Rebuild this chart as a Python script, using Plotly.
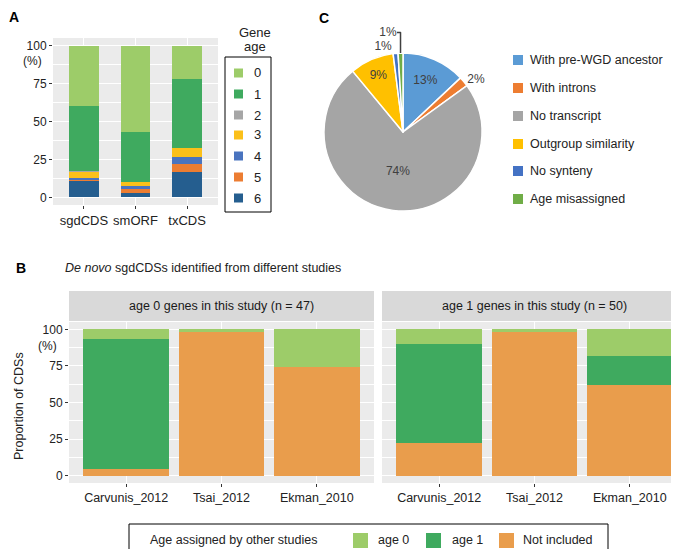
import plotly.graph_objects as go

W, H = 679, 549
FONT = "Liberation Sans, Arial, sans-serif"
TXT = "#333333"

# ---------------- Panel A data ----------------
a_categories = ["sgdCDS", "smORF", "txCDS"]
gene_ages = ["0", "1", "2", "3", "4", "5", "6"]
age0 = [40.0, 57.1, 21.8]
age1 = [42.8, 32.9, 45.9]
age2 = [0.4, 0.0, 0.0]
age3 = [4.0, 2.2, 6.0]
age4 = [0.9, 2.2, 4.0]
age5 = [0.8, 2.7, 5.6]
age6 = [11.1, 2.9, 16.7]
age_colors = ["#9DCC69", "#3FAA5F", "#A6A6A6", "#FBC01A", "#4A74BF", "#EC7D32", "#255E8F"]

# ---------------- Panel C data ----------------
pie_labels = ["With pre-WGD ancestor", "With introns", "No transcript",
              "Outgroup similarity", "No synteny", "Age misassigned"]
pie_values = [13, 2, 74, 9, 1, 1]
pie_colors = ["#5B9BD5", "#ED7D31", "#A5A5A5", "#FFC000", "#4472C4", "#70AD47"]

# ---------------- Panel B data ----------------
studies = ["Carvunis_2012", "Tsai_2012", "Ekman_2010"]
facet_titles = ["age 0 genes in this study (n = 47)", "age 1 genes in this study (n = 50)"]
f0_age0 = [6.4, 2.1, 25.5]
f0_age1 = [89.3, 0.0, 0.0]
f0_notinc = [4.3, 97.9, 74.5]
f1_age0 = [10.0, 2.0, 18.0]
f1_age1 = [68.0, 0.0, 20.0]
f1_notinc = [22.0, 98.0, 62.0]
b_legend = ["age 0", "age 1", "Not included"]
b_colors = ["#9DCC69", "#3FAA5F", "#E99D4C"]


def px(x):
    return x / W


def py(y):
    return 1 - y / H


fig = go.Figure()

# Panel A stacked bars (bottom = age 6)
a_series = [age0, age1, age2, age3, age4, age5, age6]
for i in range(6, -1, -1):
    fig.add_trace(go.Bar(x=a_categories, y=a_series[i], name=gene_ages[i],
                         marker=dict(color=age_colors[i], line=dict(width=0)),
                         width=0.58, xaxis="x", yaxis="y", showlegend=False))

# Panel C pie
fig.add_trace(go.Pie(labels=pie_labels, values=pie_values, sort=False,
                     direction="clockwise", rotation=0,
                     marker=dict(colors=pie_colors, line=dict(color="white", width=1.5)),
                     texttemplate="%{percent:.0%}",
                     textposition=["inside", "outside", "inside", "inside", "outside", "outside"],
                     insidetextorientation="horizontal",
                     textfont=dict(size=12, color="#404040", family=FONT),
                     domain=dict(x=[px(316), px(474)], y=[py(203), py(45)]),
                     showlegend=False))

# Panel B stacked bars
facets = [(f0_notinc, f0_age1, f0_age0, "x2", "y2"), (f1_notinc, f1_age1, f1_age0, "x3", "y3")]
for notinc, a1, a0, xa, ya in facets:
    for vals, nm, col in [(notinc, b_legend[2], b_colors[2]), (a1, b_legend[1], b_colors[1]),
                          (a0, b_legend[0], b_colors[0])]:
        fig.add_trace(go.Bar(x=studies, y=vals, name=nm, marker=dict(color=col, line=dict(width=0)),
                             width=0.9, xaxis=xa, yaxis=ya, showlegend=False))

grid = dict(showgrid=True, gridcolor="white", gridwidth=1.1, zeroline=False,
            ticks="outside", ticklen=3, tickcolor="#333333", tickwidth=1, showline=False)
minor = dict(dtick=12.5, tick0=0, showgrid=True, gridcolor="white", gridwidth=0.5, ticks="")

fig.update_layout(
    width=W, height=H, margin=dict(l=0, r=0, t=0, b=0),
    paper_bgcolor="white", plot_bgcolor="#EBEBEB",
    barmode="stack", font=dict(family=FONT, color=TXT),
    xaxis=dict(domain=[px(45), px(210)], anchor="y", range=[-0.6, 2.6],
               tickfont=dict(size=13, color="#222"), **grid),
    yaxis=dict(domain=[py(197), py(30)], anchor="x", range=[-5, 105],
               tickvals=[0, 25, 50, 75, 100], tickfont=dict(size=12, color="#222"),
               minor=minor, **grid),
    xaxis2=dict(domain=[px(61), px(366)], anchor="y2", range=[-0.6, 2.6],
                tickfont=dict(size=12.5, color="#222"), **grid),
    yaxis2=dict(domain=[py(475), py(314)], anchor="x2", range=[-5, 105],
                tickvals=[0, 25, 50, 75, 100], tickfont=dict(size=12, color="#222"),
                minor=minor, **grid),
    xaxis3=dict(domain=[px(374), px(679)], anchor="y3", range=[-0.6, 2.6],
                tickfont=dict(size=12.5, color="#222"), **grid),
    yaxis3=dict(domain=[py(475), py(314)], anchor="x3", range=[-5, 105],
                tickvals=[0, 25, 50, 75, 100], showticklabels=False,
                minor=minor, **{**grid, "ticks": ""}),
)

shapes = []
annotations = []


def text(x, y, s, size=12, xanchor="left", yanchor="middle", bold=False, color="#222", angle=0):
    annotations.append(dict(x=px(x), y=py(y), xref="paper", yref="paper", text=s,
                            showarrow=False, xanchor=xanchor, yanchor=yanchor, textangle=angle,
                            font=dict(size=size, color=color, family=FONT)))


def rect(x0, y0, x1, y1, fill=None, line=None):
    shapes.append(dict(type="rect", xref="paper", yref="paper", x0=px(x0), x1=px(x1),
                       y0=py(y1), y1=py(y0), fillcolor=fill or "rgba(0,0,0,0)",
                       line=dict(width=1 if line else 0, color=line or "rgba(0,0,0,0)"),
                       layer="above"))


# Panel letters
text(6, 9, "<b>A</b>", size=14, xanchor="center", color="black")
text(316, 10, "<b>C</b>", size=14, xanchor="center", color="black")
text(13, 260, "<b>B</b>", size=14, xanchor="center", color="black")

# (%) labels
text(36, 53, "(%)", size=12, xanchor="right")
text(51, 338, "(%)", size=12, xanchor="right")

# Gene age legend
text(247, 24, "Gene", size=13, xanchor="center")
text(247, 38, "age", size=13, xanchor="center")
rect(217, 49, 263, 204, line="black")
rows_a = [65, 86, 107, 127, 148, 169, 190]
for i, yy in enumerate(rows_a):
    rect(226, yy - 4.5, 235, yy + 4.5, fill=age_colors[i])
    text(244, yy, gene_ages[i], size=13)

# Pie legend
rows_c = [52, 80, 108, 136, 163, 191]
for i, yy in enumerate(rows_c):
    rect(505, yy - 5, 515, yy + 5, fill=pie_colors[i])
    text(520, yy, pie_labels[i], size=12.5)

# Panel B title
text(55, 260, "<i>De novo</i> sgdCDSs identified from different studies", size=12.5)

# Facet strips
rect(61, 283, 366, 313, fill="#D9D9D9")
rect(374, 283, 679, 313, fill="#D9D9D9")
text(213.5, 298, facet_titles[0], size=12.5, xanchor="center", color="#1A1A1A")
text(526.5, 298, facet_titles[1], size=12.5, xanchor="center", color="#1A1A1A")

# y-axis title B
text(11, 398, "Proportion of CDSs", size=12.5, xanchor="center", angle=-90)

# Bottom legend
rect(121, 516, 600, 548, line="black")
text(140, 532, "Age assigned by other studies", size=12.5)
keys_x = [345, 418, 491]
labels_x = [368, 442, 513]
for i in range(3):
    rect(keys_x[i], 525, keys_x[i] + 15, 540, fill=b_colors[i])
    text(labels_x[i], 532, b_legend[i], size=12.5)

fig.update_layout(shapes=shapes, annotations=annotations)
fig.write_html("out.html")
